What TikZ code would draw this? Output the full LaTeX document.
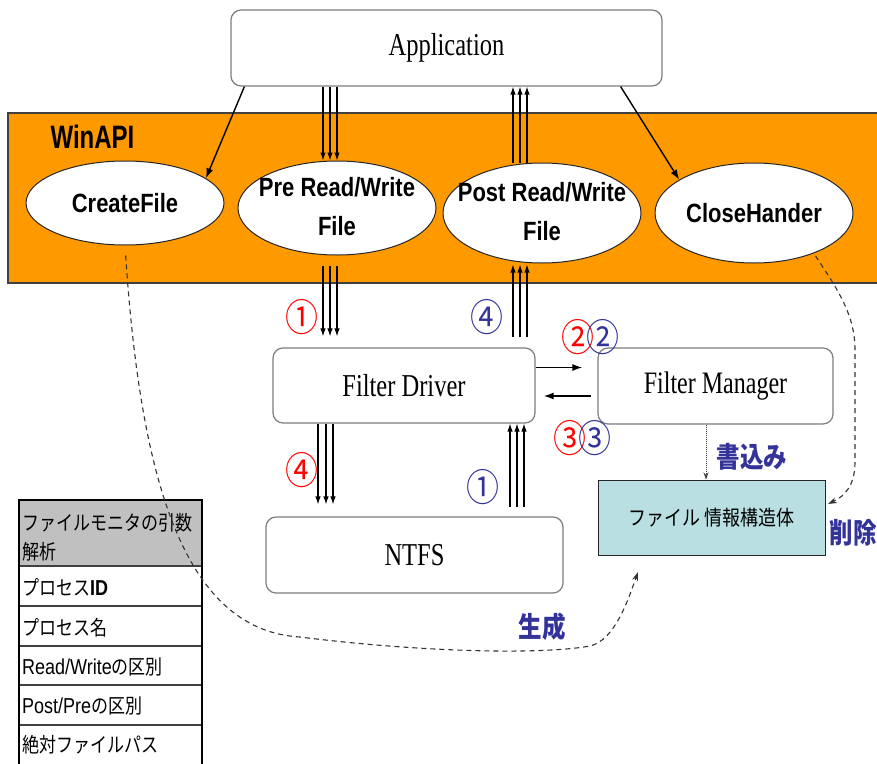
\documentclass[tikz,border=0pt]{standalone}
\usepackage{fontspec}
\usepackage{graphicx}
\setmainfont{Liberation Serif}
\setsansfont{Liberation Sans}
\newfontfamily\jp{Noto Sans CJK JP}
\usetikzlibrary{shapes.geometric,arrows.meta,calc}
\definecolor{orng}{RGB}{255,153,0}
\definecolor{lblue}{RGB}{51,51,153}
\definecolor{cyanbox}{RGB}{185,223,227}
\definecolor{hdrgray}{RGB}{192,192,192}
\definecolor{bord}{RGB}{125,125,125}
\newcommand\vs[2][1.3]{\scalebox{1}[#1]{#2}}
\begin{document}
\begin{tikzpicture}[x=1pt,y=-1pt,
  rbox/.style={draw=bord,line width=1.2pt,rounded corners=10pt,fill=white,inner sep=0pt},
  ell/.style={ellipse,draw=black!85,line width=1pt,fill=white,inner sep=0pt,minimum width=198pt},
  lab/.style={font=\sffamily\bfseries\fontsize{22}{33}\selectfont},
  serif/.style={font=\fontsize{24.5}{30}\selectfont},
  arr/.style={line width=1.1pt,-{Latex[length=8pt,width=5.5pt]}},
  harr/.style={line width=1.5pt,-{Latex[length=10pt,width=7pt]}},
  dsh/.style={line width=1.1pt,black!80,dash pattern=on 5pt off 4pt,-{Stealth[length=9pt,width=6pt]}},
  circ/.style={inner sep=0pt,font=\jp\fontsize{33}{36}\selectfont},
  blab/.style={text=lblue,font=\jp\bfseries\fontsize{23.5}{26}\selectfont},
  tj/.style={anchor=west,inner sep=0pt,font=\jp\fontsize{17}{20}\selectfont}]
\useasboundingbox (0,0) rectangle (877,763);

% WinAPI band
\fill[orng] (8,113) rectangle (877,283);
\draw[line width=1.2pt,black!75] (877,113) -- (8,113) -- (8,283) -- (877,283);
\node[font=\sffamily\bfseries\fontsize{24}{28}\selectfont,inner sep=0pt] (winapi) at (92.5,137) {\vs[1.35]{WinAPI}};

% Table
\fill[hdrgray] (19,500) rectangle (202,566);
\foreach \yy in {566,606,646,685,725}{
  \draw[line width=1.2pt,black!75] (19,\yy) -- (202,\yy);
}
\draw[line width=2.6pt] (19,770) -- (19,500) -- (202,500) -- (202,770);
\node[tj] (h1) at (22,523) {\vs[1.2]{ファイルモニタの引数}};
\node[tj] (h2) at (22,552) {\vs[1.2]{解析}};
\node[tj] (r1t) at (22,587) {\vs[1.2]{プロセス{\sffamily\bfseries\fontsize{18}{20}\selectfont ID}}};
\node[tj] (r2t) at (22,628) {\vs[1.2]{プロセス名}};
\node[tj] (r3t) at (22,667) {\vs[1.2]{{\sffamily\fontsize{18}{20}\selectfont Read/Write}の区別}};
\node[tj] (r4t) at (22,706) {\vs[1.2]{{\sffamily\fontsize{18}{20}\selectfont Post/Pre}の区別}};
\node[tj] (r5t) at (22,745) {\vs[1.2]{絶対ファイルパス}};

% Boxes
\node[rbox,minimum width=431pt,minimum height=76pt,serif] (app) at (446.5,48) {\vs{Application}};
\node[rbox,minimum width=262pt,minimum height=75pt,serif] (fd) at (404,385.5) {\vs{Filter Driver}};
\node[rbox,minimum width=235pt,minimum height=76pt,font=\fontsize{24}{30}\selectfont] (fm) at (715.5,386) {\vs{Filter Manager}};
\node[rbox,minimum width=297pt,minimum height=76pt,serif] (ntfs) at (414.5,555) {\vs{NTFS}};
\node[draw=black!85,fill=cyanbox,line width=1pt,minimum width=227pt,minimum height=75pt,inner sep=0pt,
      font=\jp\fontsize{18}{20}\selectfont] (fi) at (711.5,517.5) {\vs[1.15]{ファイル 情報構造体}};

% Ellipses
\node[ell,minimum height=84pt,label={[lab]center:{\vs[1.2]{CreateFile}}}] (cf) at (125,203) {};
\node[ell,minimum height=94pt,label={[lab]center:{\vs[1.2]{\begin{tabular}{@{}c@{}}Pre Read/Write\\File\end{tabular}}}}] (pre) at (337,208) {};
\node[ell,minimum height=100pt,label={[lab]center:{\vs[1.2]{\begin{tabular}{@{}c@{}}Post Read/Write\\File\end{tabular}}}}] (post) at (542,213) {};
\node[ell,minimum height=100pt,label={[lab]center:{\vs[1.2]{CloseHander}}}] (ch) at (754,213) {};

% Single arrows from Application
\draw[harr,line width=1.4pt] ($(app.south west)+(14,0)$) -- (cf.17);
\draw[harr,line width=1.4pt] ($(app.south east)+(-42,0)$) -- (ch.156);

% Triple arrows
\foreach \d in {-14,-7,0}{
  \coordinate (t) at ($(pre.north)+(\d,0)$);
  \draw[arr] (t |- app.south) -- (t);
  \coordinate (u) at ($(pre.south)+(\d,0)$);
  \draw[arr,shorten <=10pt,shorten >=11pt] (u) -- (u |- fd.north);
}
\foreach \d in {-29,-22,-15}{
  \coordinate (t) at ($(post.north)+(\d,0)$);
  \draw[arr] (t) -- (t |- app.south);
  \coordinate (u) at ($(post.south)+(\d,0)$);
  \draw[arr,shorten <=10pt,shorten >=1pt] (u |- fd.north) -- (u);
}
\foreach \d in {-86,-78,-71}{
  \coordinate (t) at ($(fd.south)+(\d,0)$);
  \draw[arr,shorten >=12pt] (t) -- (t |- ntfs.north);
}
\foreach \d in {106,113,120}{
  \coordinate (t) at ($(fd.south)+(\d,0)$);
  \draw[arr,shorten <=9pt] (t |- ntfs.north) -- (t);
}

% FD <-> FM
\coordinate (r1) at ($(fd.east)+(0,-18)$);
\draw[harr,shorten >=15pt] (r1) -- (r1 -| fm.west);
\coordinate (r2) at ($(fm.west)+(0,10)$);
\draw[harr,shorten <=6pt,shorten >=8pt] (r2) -- (r2 -| fd.east);

% FM -> file info (dotted)
\coordinate (w) at ($(fm.south)+(-9.5,0)$);
\draw[densely dotted,line width=1pt,black!75,-{Stealth[length=7pt,width=5pt]}] (w) -- (w |- fi.north);

% Dashed curves
\coordinate (gen) at (638,572);
\draw[dsh,shorten <=10pt] (cf.south) .. controls (140,470) and (180,630) .. (300,637)
   .. controls (420,652) and (540,655) .. (590,646)
   .. controls (615,640) and (628,600) .. (gen);
\coordinate (del) at (828,504);
\draw[dsh,shorten <=3pt] (ch.-34) .. controls (838,290) and (855,315) .. (855,350)
   -- (855,462) .. controls (855,485) and (845,496) .. (del);

% Circled numbers
\node[circ,text=red] (c1r) at (302,317) {\vs[1.15]{①}};
\node[circ,text=lblue] (c4b) at (487,317) {\vs[1.15]{④}};
\node[circ,text=red] (c2r) at (578,337) {\vs[1.15]{②}};
\node[circ,text=lblue] (c2b) at (603,337) {\vs[1.15]{②}};
\node[circ,text=red] (c3r) at (570,438) {\vs[1.15]{③}};
\node[circ,text=lblue] (c3b) at (595,438) {\vs[1.15]{③}};
\node[circ,text=red] (c4r) at (302,470) {\vs[1.15]{④}};
\node[circ,text=lblue] (c1b) at (483,487) {\vs[1.15]{①}};

% Blue labels
\node[blab] (write) at (752,457) {\vs[1.2]{書込み}};
\node[blab] (delete) at (853,533) {\vs[1.2]{削除}};
\node[blab] (create) at (542,627) {\vs[1.2]{生成}};
\end{tikzpicture}
\end{document}
